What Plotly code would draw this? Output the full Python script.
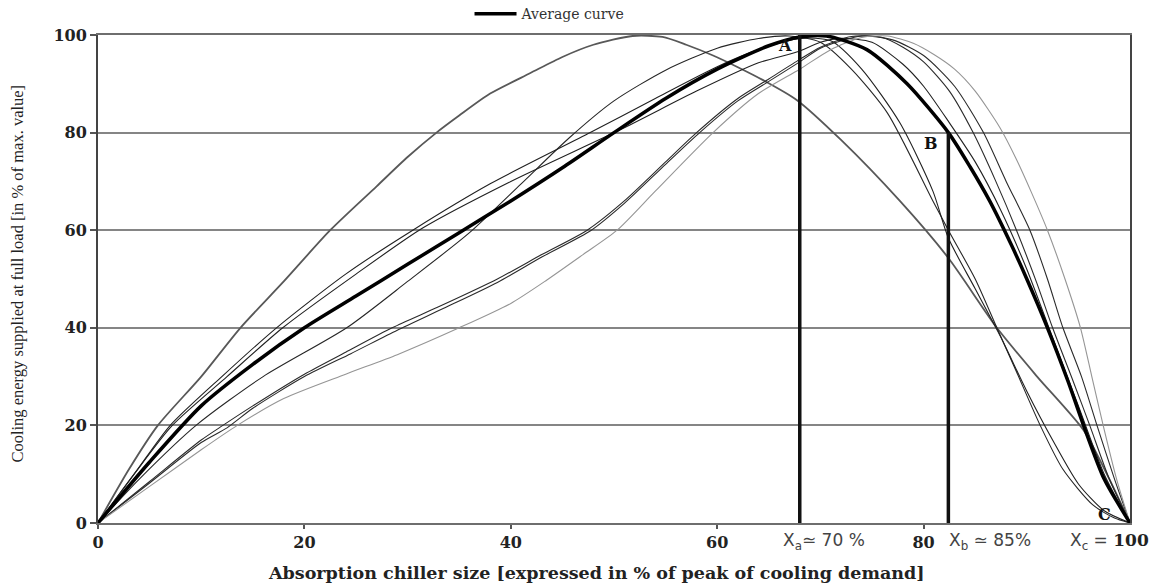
import plotly.graph_objects as go

# ---------------- data ----------------
x_avg = [0, 5, 10, 15, 20, 25, 30, 35, 40, 45, 50, 55, 60, 65, 68, 70.6, 74.5, 78.4, 82.4, 84.5, 86.4, 88.5, 90, 92, 94, 95.5, 97.5, 100]
y_avg = [0, 12.5, 24, 32.5, 40, 46.5, 53, 59.5, 66, 72.8, 80, 87, 93, 97.8, 99.6, 99.8, 97, 90, 80, 73, 66, 57, 50, 40, 29, 20, 9, 0]

x_e = [0, 3, 5.8, 10, 13.8, 18, 22.5, 27, 30, 32.8, 35, 38, 41.9, 45, 48, 51.8, 54.7, 57, 59.6, 62, 64.4, 67.7, 72, 77.7, 82.4, 87.1, 91, 95.5, 98, 100]
y_e = [0, 11, 20, 30, 40, 49.5, 60, 69, 75, 80, 83.5, 88, 92.2, 95.5, 98, 99.8, 99.6, 98, 95.8, 93.4, 90.8, 86.7, 78.5, 66, 54.3, 40, 30, 19, 9, 0]

x_m = [0, 4, 9.5, 16, 24.1, 30, 36, 41, 45.7, 50, 55, 60, 64, 67, 70, 73, 76.5, 80.9, 82.4, 85, 87.1, 89, 91.3, 93.5, 96.4, 98.5, 100]
y_m = [0, 9, 20, 30, 40, 49.5, 59.5, 69.5, 79, 86.5, 92.8, 97.3, 99.3, 99.8, 98.5, 93, 84, 66, 60, 50, 40, 31, 20, 11, 3.7, 1, 0]

x_u1 = [0, 3.5, 7, 12, 17.3, 24, 30.5, 38, 47.7, 54, 60, 64, 68, 71, 74, 77.7, 80.9, 82.4, 85, 87.5, 90, 92.5, 95, 97.5, 100]
y_u1 = [0, 10, 20, 30, 40, 51, 60, 69.5, 80, 87, 93.5, 97, 99.3, 98.8, 93, 82, 68, 58.4, 48, 38, 27, 17, 8, 2.5, 0]

x_u2 = [0, 3.5, 7.2, 12.5, 17.9, 25, 31.5, 40, 51, 58, 64, 67.7, 70, 72, 75, 78, 80, 82.5, 85, 87.5, 90, 92.5, 95, 97.5, 100]
y_u2 = [0, 10, 20, 30, 40, 51, 60.5, 70, 81, 88.5, 94.3, 96.5, 98.5, 99.3, 98.5, 94, 89.5, 82, 74, 64, 52, 38, 24, 10, 0]

x_d1 = [0, 5, 10, 12.1, 15, 20, 24, 28.5, 33, 38.7, 43, 47.4, 51, 55, 58, 62, 65, 68, 70, 73, 76, 78, 80, 82.5, 84.8, 87, 89, 91, 92.5, 94.5, 96.1, 98, 100]
y_d1 = [0, 8.5, 17, 20, 24, 30.5, 35, 40, 44.3, 50, 55, 60, 66, 74, 80, 87, 91, 95, 97.5, 99.7, 99.5, 97.5, 94.5, 88.5, 80, 70, 60, 49, 40, 29, 20, 9, 0]

x_d2 = [0, 5, 10, 12.5, 15, 20, 24.5, 29, 33.5, 38.7, 43, 47.8, 51, 55, 58.3, 62, 65, 68, 70, 74, 77, 80, 83, 85.8, 88, 90.3, 92, 93.5, 95.3, 96.8, 98.5, 100]
y_d2 = [0, 8.2, 16.5, 19.5, 23.5, 30, 34.7, 39.5, 44, 49.3, 54.5, 60, 65.5, 73.5, 80, 86.5, 90.5, 94.5, 97.3, 99.8, 99, 95.8, 89.5, 80, 70, 60, 50, 40, 30, 20, 9, 0]

x_g = [0, 5, 10, 13.5, 18, 24, 29, 35, 40, 43.5, 47, 50.3, 54, 59.6, 64, 68, 71, 74, 76.5, 79, 81, 83, 85, 87.4, 89, 90.5, 92, 93.7, 95.2, 96.3, 97.4, 98.7, 100]
y_g = [0, 7.5, 15, 20, 25.5, 30.5, 34.5, 40, 45, 49.8, 55, 60, 68, 80, 88, 93, 97, 99.5, 99.8, 98.3, 96, 93, 88.5, 81, 74.5, 67.5, 60, 50, 40, 30, 20, 9, 0]

xa, xa_top = 68.0, 100
xb, xb_top = 82.4, 80

x_ticks = [0, 20, 40, 60, 80]
y_ticks = [0, 20, 40, 60, 80, 100]

# ---------------- figure ----------------
fig = go.Figure()

thin = [
    (x_e, y_e, "#585858", 1.8),
    (x_m, y_m, "#262626", 1.1),
    (x_u1, y_u1, "#202020", 1.1),
    (x_u2, y_u2, "#202020", 1.1),
    (x_d1, y_d1, "#2a2a2a", 1.1),
    (x_d2, y_d2, "#2a2a2a", 1.1),
    (x_g, y_g, "#959595", 1.1),
]
for xs, ys, col, w in thin:
    fig.add_trace(go.Scatter(x=xs, y=ys, mode="lines", showlegend=False,
                             line=dict(color=col, width=w, shape="spline", smoothing=0.7),
                             hoverinfo="skip"))

fig.add_trace(go.Scatter(x=x_avg, y=y_avg, mode="lines", name="Average curve",
                         line=dict(color="#000000", width=3.5, shape="spline", smoothing=0.7)))

# vertical markers A and B
fig.add_trace(go.Scatter(x=[xa, xa], y=[0, xa_top], mode="lines", showlegend=False,
                         line=dict(color="#111111", width=3.5)))
fig.add_trace(go.Scatter(x=[xb, xb], y=[0, xb_top], mode="lines", showlegend=False,
                         line=dict(color="#111111", width=3.5)))

serif = "DejaVu Serif"
fig.update_layout(
    width=1159, height=583,
    margin=dict(l=98, r=29, t=35, b=60, autoexpand=False),
    plot_bgcolor="white", paper_bgcolor="white",
    showlegend=True,
    legend=dict(orientation="h", x=0.36, y=1.01, xanchor="left", yanchor="bottom",
                font=dict(family="DejaVu Serif", size=14, color="#333333"),
                bgcolor="rgba(0,0,0,0)", itemwidth=42),
    xaxis=dict(range=[0, 100], tickvals=x_ticks, ticktext=[str(v) for v in x_ticks],
               showgrid=False, zeroline=False, showline=True, linecolor="#6e6e6e", linewidth=2,
               mirror=True, ticks="outside", ticklen=4, tickcolor="#555555", tickwidth=1.5,
               tickfont=dict(family=serif, size=16, color="#222222", weight="bold"), fixedrange=True),
    yaxis=dict(range=[0, 100], tickvals=y_ticks, ticktext=[str(v) for v in y_ticks],
               showgrid=True, gridcolor="#858585", gridwidth=1.6, zeroline=False,
               showline=True, linecolor="#444444", linewidth=2, mirror=True,
               ticks="outside", ticklen=6, tickcolor="#555555", tickwidth=1.5,
               tickfont=dict(family=serif, size=16, color="#222222", weight="bold"), fixedrange=True),
)

# axis titles as annotations for exact placement
fig.add_annotation(text="<b>Absorption chiller size [expressed in % of peak of cooling demand]</b>",
                   xref="paper", yref="paper", x=0.4826, y=-0.102, xanchor="center", yanchor="middle",
                   showarrow=False, font=dict(family=serif, size=17.5, color="#222222"))
fig.add_annotation(text="Cooling energy supplied at full load [in % of max. value]",
                   xref="paper", yref="paper", x=-0.078, y=0.51, xanchor="center", yanchor="middle",
                   textangle=-90, showarrow=False,
                   font=dict(family="Liberation Serif", size=16.5, color="#222222"))

# point labels
for lab, lx, ly in [("A", 66.6, 97.8), ("B", 80.7, 77.8), ("C", 97.5, 1.8)]:
    fig.add_annotation(text="<b>%s</b>" % lab, x=lx, y=ly, showarrow=False,
                       font=dict(family=serif, size=16, color="#111111"))

# Xa, Xb, Xc labels below the axis
lab_font = dict(family="DejaVu Sans", size=17, color="#444444")
fig.add_annotation(text="X<sub>a</sub>≃ 70 %", x=70.3, y=0, yref="y", yshift=-18,
                   showarrow=False, font=lab_font)
fig.add_annotation(text="X<sub>b</sub> ≃ 85%", x=86.4, y=0, yref="y", yshift=-18,
                   showarrow=False, font=lab_font)
fig.add_annotation(text="X<sub>c</sub> = <span style='font-family:DejaVu Serif;font-weight:bold;color:#222222'>100</span>",
                   x=98.0, y=0, yref="y", yshift=-18, showarrow=False, font=lab_font)

fig.write_html("out.html")
